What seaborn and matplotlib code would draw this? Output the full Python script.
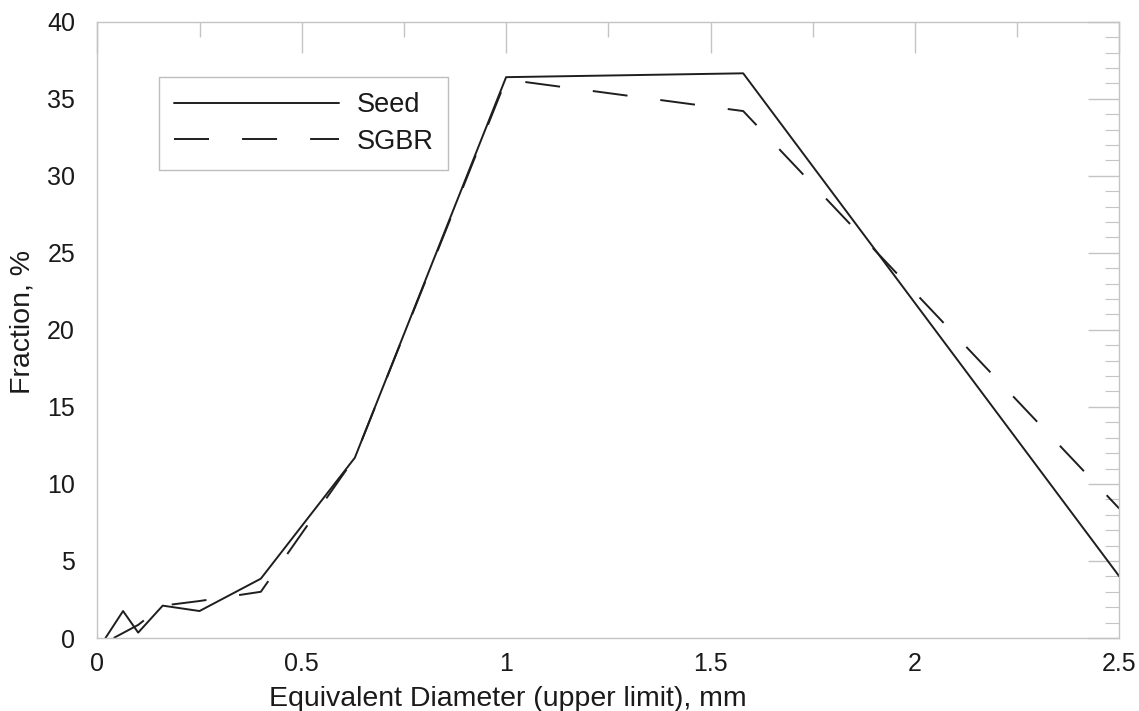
import matplotlib
matplotlib.use("Agg")
import matplotlib.pyplot as plt
import seaborn as sns
import pandas as pd
from matplotlib.ticker import MultipleLocator

# ---- data ----
seed_x = [0.02, 0.063, 0.1, 0.16, 0.25, 0.4, 0.63, 1.0, 1.58, 2.5]
seed_y = [0.0, 1.75, 0.35, 2.1, 1.75, 3.85, 11.7, 36.4, 36.65, 4.0]
sgbr_x = [0.04, 0.1, 0.16, 0.25, 0.4, 0.63, 1.0, 1.58, 2.5]
sgbr_y = [0.0, 0.85, 2.1, 2.4, 3.0, 11.7, 36.25, 34.2, 8.4]
x_ticks = [0, 0.5, 1, 1.5, 2, 2.5]
x_tick_labels = ["0", "0.5", "1", "1.5", "2", "2.5"]
y_ticks = [0, 5, 10, 15, 20, 25, 30, 35, 40]

sns.set_theme(style="white")
plt.rcParams["font.family"] = ["Liberation Sans", "DejaVu Sans"]

fig = plt.figure(figsize=(11.39, 7.11), dpi=100)
ax = fig.add_axes([97.3 / 1139, 1 - 638 / 711, 1022 / 1139, 616.3 / 711])

df_seed = pd.DataFrame({"x": seed_x, "y": seed_y})
df_sgbr = pd.DataFrame({"x": sgbr_x, "y": sgbr_y})

line_color = "#1e1e1e"
sns.lineplot(data=df_seed, x="x", y="y", ax=ax, color=line_color, lw=1.4,
             estimator=None, sort=False, label="Seed")
sns.lineplot(data=df_sgbr, x="x", y="y", ax=ax, color=line_color, lw=1.4,
             estimator=None, sort=False, label="SGBR", dashes=False)
ax.lines[1].set_dashes((18, 17))

ax.set_xlim(0, 2.5)
ax.set_ylim(0, 40)
ax.set_xticks(x_ticks)
ax.set_xticklabels(x_tick_labels)
ax.set_yticks(y_ticks)
ax.xaxis.set_minor_locator(MultipleLocator(0.25))
ax.yaxis.set_minor_locator(MultipleLocator(1))

frame_color = "#c4c4c4"
for s in ax.spines.values():
    s.set_color(frame_color)
    s.set_linewidth(1.0)

ax.tick_params(axis="both", which="both", direction="in", colors=frame_color,
               top=True, right=True, labelcolor="#1a1a1a", labelsize=18)
ax.tick_params(axis="x", which="major", length=22, width=1.0, pad=10)
ax.tick_params(axis="x", which="minor", length=11, width=1.0)
ax.tick_params(axis="y", which="major", length=22, width=1.0, pad=16)
ax.tick_params(axis="y", which="minor", length=10, width=0.8)

ax.set_xlabel("Equivalent Diameter (upper limit), mm", fontsize=20.5,
              color="#1a1a1a")
ax.xaxis.set_label_coords(0.402, -0.078)
ax.set_ylabel("Fraction, %", fontsize=20.5, color="#1a1a1a")
ax.yaxis.set_label_coords(-0.06, 0.513)

leg = ax.legend(loc="upper left", bbox_to_anchor=(0.0607, 0.91),
                borderaxespad=0, fontsize=19.5, handlelength=6.1,
                handletextpad=0.63, labelspacing=0.4, borderpad=0.55,
                fancybox=False, framealpha=1, edgecolor="#bdbdbd")
leg.get_frame().set_linewidth(1.0)
for t in leg.get_texts():
    t.set_color("#1a1a1a")

fig.savefig("out.png", dpi=100)
